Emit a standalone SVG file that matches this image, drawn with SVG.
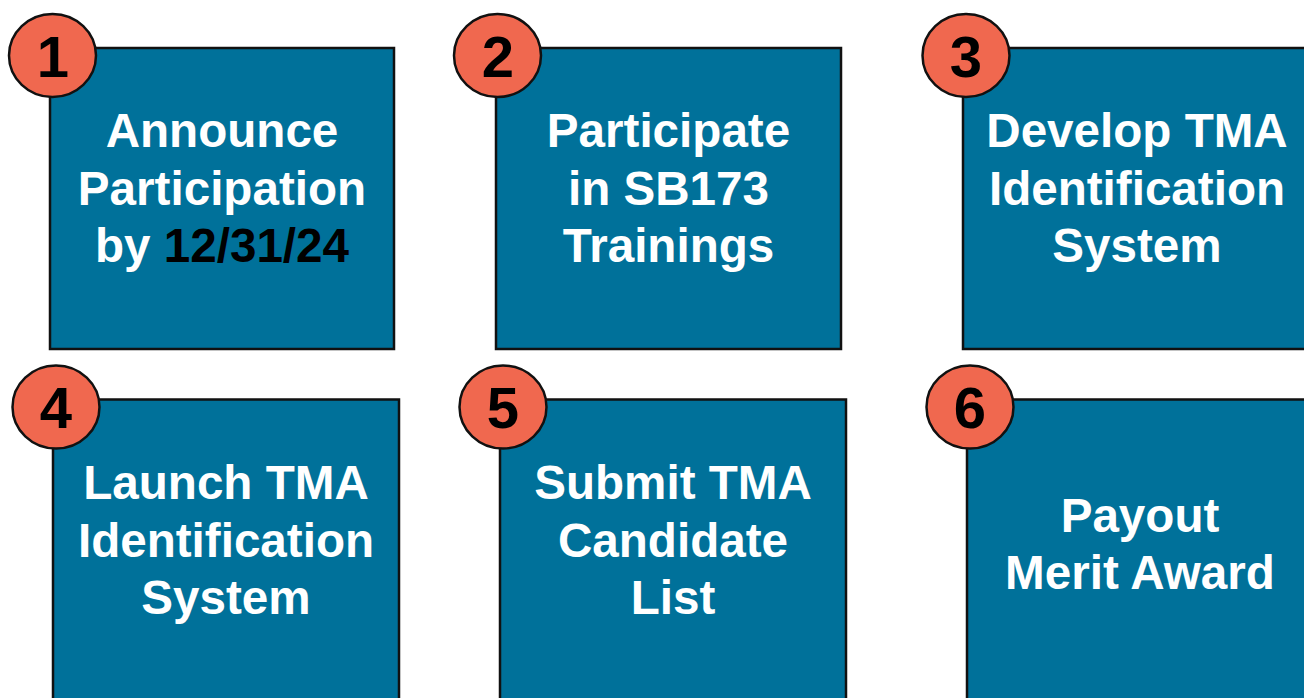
<svg xmlns="http://www.w3.org/2000/svg" width="1304" height="698" viewBox="0 0 1304 698">
  <style>
    .box { fill: #00719A; stroke: #111; stroke-width: 2.5; }
    .badge { fill: #F0684F; stroke: #111; stroke-width: 2.5; }
    .num { font-family: "Liberation Sans", Arial, sans-serif; font-weight: bold; font-size: 58px; fill: #000; text-anchor: middle; }
    .label { font-family: "Liberation Sans", Arial, sans-serif; font-weight: bold; font-size: 47.6px; fill: #fff; text-anchor: middle; }
    .dark { fill: #000; }
  </style>
  <rect width="1304" height="698" fill="#fff"/>

  <g id="step1">
    <rect class="box" x="50" y="48" width="344" height="301"/>
    <ellipse class="badge" cx="52.5" cy="55.5" rx="43.5" ry="41.5"/>
    <text class="num" x="53" y="77">1</text>
    <text class="label" x="222" y="147">Announce</text>
    <text class="label" x="222" y="204.5">Participation</text>
    <text class="label" x="222" y="262">by <tspan class="dark">12/31/24</tspan></text>
  </g>

  <g id="step2">
    <rect class="box" x="496" y="48" width="345" height="301"/>
    <ellipse class="badge" cx="497.5" cy="55.5" rx="43.5" ry="41.5"/>
    <text class="num" x="498" y="77">2</text>
    <text class="label" x="668.5" y="147">Participate</text>
    <text class="label" x="668.5" y="204.5">in SB173</text>
    <text class="label" x="668.5" y="262">Trainings</text>
  </g>

  <g id="step3">
    <rect class="box" x="963" y="48" width="348" height="301"/>
    <ellipse class="badge" cx="966" cy="55.5" rx="43.5" ry="41.5"/>
    <text class="num" x="966" y="77">3</text>
    <text class="label" x="1137" y="147">Develop TMA</text>
    <text class="label" x="1137" y="204.5">Identification</text>
    <text class="label" x="1137" y="262">System</text>
  </g>

  <g id="step4">
    <rect class="box" x="53" y="399.5" width="346" height="310"/>
    <ellipse class="badge" cx="56" cy="407" rx="43.5" ry="41.5"/>
    <text class="num" x="56" y="428">4</text>
    <text class="label" x="226" y="499">Launch TMA</text>
    <text class="label" x="226" y="556.5">Identification</text>
    <text class="label" x="226" y="614">System</text>
  </g>

  <g id="step5">
    <rect class="box" x="500" y="399.5" width="346" height="310"/>
    <ellipse class="badge" cx="503" cy="407" rx="43.5" ry="41.5"/>
    <text class="num" x="503" y="428">5</text>
    <text class="label" x="673" y="499">Submit TMA</text>
    <text class="label" x="673" y="556.5">Candidate</text>
    <text class="label" x="673" y="614">List</text>
  </g>

  <g id="step6">
    <rect class="box" x="967" y="399.5" width="346" height="310"/>
    <ellipse class="badge" cx="970" cy="407" rx="43.5" ry="41.5"/>
    <text class="num" x="970" y="428">6</text>
    <text class="label" x="1140" y="532">Payout</text>
    <text class="label" x="1140" y="589">Merit Award</text>
  </g>

  <g id="connectors"></g>
</svg>
